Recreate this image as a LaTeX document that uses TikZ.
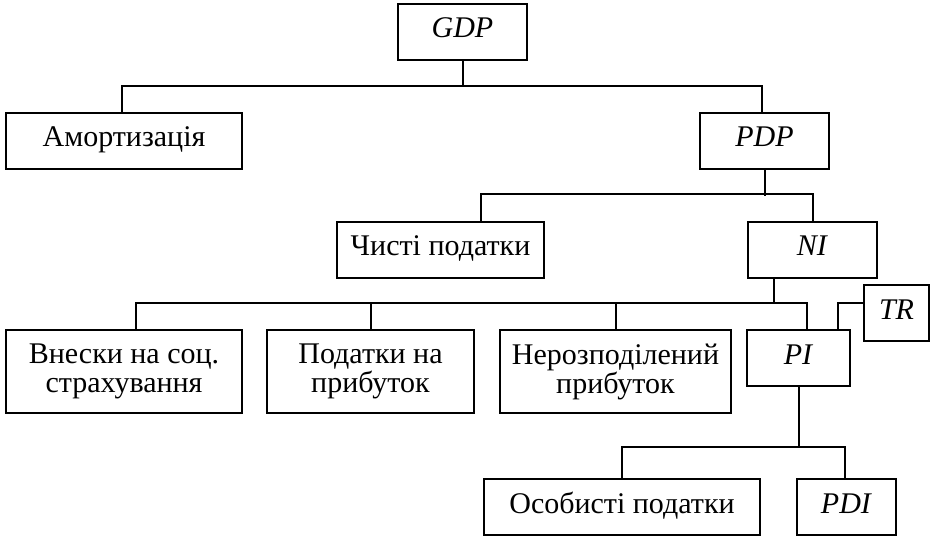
\documentclass[tikz,border=0pt]{standalone}
\usepackage{fontspec}
\setmainfont{Liberation Serif}
\begin{document}
\begin{tikzpicture}[x=1pt,y=-1pt,line width=2pt,
    box/.style={draw,inner sep=0pt,align=center,font=\fontsize{30}{29}\selectfont},
    onebox/.style={box,minimum height=56pt,text height=20pt,text depth=8pt}]
    \useasboundingbox (0,0) rectangle (931,537);

    \node[onebox,minimum width=129pt] (gdp) at (462.5,32) {\textit{GDP}};
    \node[onebox,minimum width=236pt] (amort) at (124,141) {Амортизація};
    \node[onebox,minimum width=129pt] (pdp) at (764.5,141) {\textit{PDP}};

    \node[onebox,minimum width=207pt] (net) at (440.5,250) {Чисті податки};
    \node[onebox,minimum width=129pt] (ni) at (812.5,250) {\textit{NI}};

    \node[box,minimum width=236pt,minimum height=83pt] (soc) at (124,371.5) {Внески на соц.\\страхування};
    \node[box,minimum width=207pt,minimum height=83pt] (prof) at (370.5,371.5) {Податки на\\прибуток};
    \node[box,minimum width=231pt,minimum height=83pt] (undist) at (615.5,371.5) {Нерозподілений\\прибуток};
    \node[onebox,minimum width=103pt] (pi) at (798.5,358) {\textit{PI}};
    \node[onebox,minimum width=65pt] (tr) at (896.5,313) {\textit{TR}};

    \node[onebox,minimum width=276pt] (pers) at (622,507) {Особисті податки};
    \node[onebox,minimum width=99pt] (pdi) at (846.5,507) {\textit{PDI}};

    % GDP
    \coordinate (b1) at (462.5,86);
    \draw (gdp.south) -- (b1);
    \draw ([xshift=-2pt]amort.north) |- (b1);
    \draw ([xshift=-2.5pt]pdp.north) |- (b1);

    % PDP
    \coordinate (b2) at (764.5,194);
    \draw (pdp.south) -- ([yshift=-2pt]b2);
    \draw ([xshift=40.5pt]net.north) |- (b2);
    \draw (ni.north) |- (b2);

    % NI
    \coordinate (b3) at (774,303);
    \draw ([xshift=-38.5pt]ni.south) -- (b3);
    \draw ([xshift=12pt]soc.north) |- (b3);
    \draw (prof.north) -- (prof.north |- b3);
    \draw (undist.north) -- (undist.north |- b3);
    \draw ([xshift=8.5pt]pi.north) |- (b3);
    \draw ([yshift=10pt]tr.west) -| ([xshift=39.5pt]pi.north);

    % PI
    \coordinate (b4) at (798.5,447);
    \draw (pi.south) -- (b4);
    \draw (pers.north) |- (b4);
    \draw ([xshift=-1.5pt]pdi.north) |- (b4);
\end{tikzpicture}
\end{document}
